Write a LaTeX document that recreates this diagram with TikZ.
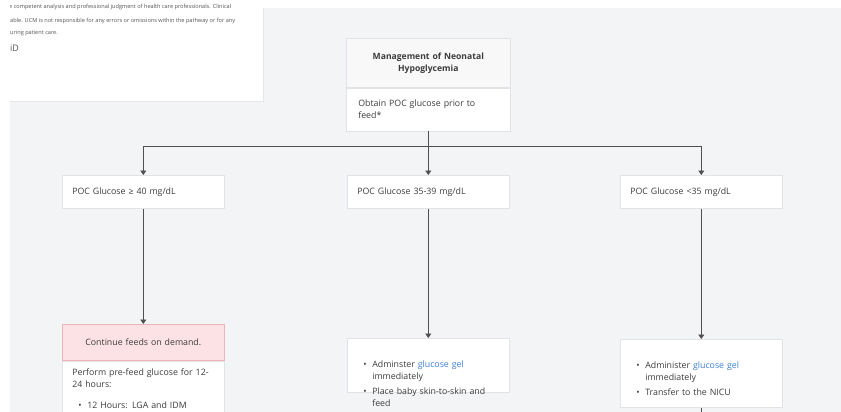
\documentclass[tikz,border=0pt]{standalone}
\usepackage{fontspec}
\setmainfont{Open Sans}
\usetikzlibrary{arrows.meta}
\definecolor{bg}{HTML}{F3F4F6}
\definecolor{bd}{HTML}{E1E3E6}
\definecolor{txt}{HTML}{3C3C3C}
\definecolor{hdr}{HTML}{F8F8F8}
\definecolor{pinkf}{HTML}{FDE2E5}
\definecolor{pinkb}{HTML}{F0B3B9}
\definecolor{linkc}{HTML}{3D7FD4}
\definecolor{ln}{HTML}{505050}
\definecolor{paneltxt}{HTML}{555555}
\definecolor{paneledge}{HTML}{E6E7EA}
\newcommand{\bul}[1]{\par\noindent\hspace*{6pt}\makebox[9pt][l]{\textbullet}\parbox[t]{127pt}{\raggedright #1}\par}
\tikzset{
  box/.style={draw=bd, fill=white, line width=0.6pt, text=txt, inner xsep=10pt,
    font=\fontsize{8.8}{12}\selectfont},
  glu/.style={box, anchor=north west, minimum width=162pt, minimum height=33pt, align=left, text width=142pt},
  list/.style={box, anchor=north west, text width=142pt, align=left, inner ysep=12pt,
    execute at begin node={\setlength{\parskip}{5pt}}},
  conn/.style={draw=ln, line width=0.8pt},
  arr/.style={conn, -{Triangle[width=6pt,length=4.5pt]}},
  ptext/.style={anchor=base west, inner sep=0pt, text=paneltxt, font=\fontsize{5.6}{6}\selectfont}
}
\begin{document}
\begin{tikzpicture}[x=1pt,y=-1pt]
\useasboundingbox (0,0) rectangle (841,412);
\clip (0,0) rectangle (841,412);
% backgrounds
\fill[white] (0,0) rectangle (841,412);
\fill[bg] (10,8) rectangle (841,412);
\fill[white] (10,8) rectangle (263,101);
\draw[color=paneledge, line width=0.6pt] (263,8) -- (263,101) -- (10,101);
\begin{scope}
  \clip (10,0) rectangle (263,101);
  \node[ptext] (pt1) at (9,9) {e competent analysis and professional judgment of health care professionals. Clinical};
  \node[ptext] (pt2) at (10,23) {able. UCM is not responsible for any errors or omissions within the pathway or for any};
  \node[ptext] (pt3) at (10,35) {uring patient care.};
  \node[ptext, font=\fontsize{9}{10}\selectfont] (pt4) at (10,52) {iD};
\end{scope}
% title
\node[box, fill=hdr, anchor=north west, minimum width=164pt, minimum height=49pt,
  text width=144pt, align=center, font=\fontsize{8.6}{12}\selectfont\bfseries] (hdr) at (346,38)
  {Management of Neonatal\\Hypoglycemia};
\node[box, anchor=north west, minimum width=164pt, minimum height=43pt,
  text width=140pt, inner xsep=12pt, align=left] (start) at (hdr.south west)
  {Obtain POC glucose prior to\\feed*};
% glucose boxes
\node[glu] (g1) at (62,175) {POC Glucose ≥ 40 mg/dL};
\node[glu] (g2) at (347,175) {POC Glucose 35-39 mg/dL};
\node[glu] (g3) at (620,175) {POC Glucose <35 mg/dL};
% lower boxes
\node[box, fill=pinkf, draw=pinkb, anchor=north west, minimum width=162pt, minimum height=36pt,
  text width=142pt, align=center] (c1h) at (62,324) {Continue feeds on demand.};
\node[box, anchor=north west, text width=142pt, align=left, inner ysep=8pt, text depth=30pt] (c1b) at (c1h.south west)
  {Perform pre-feed glucose for 12-\\24 hours:\par\vspace{9pt}\bul{12 Hours: LGA and IDM}};
\node[list, text depth=30pt] (c2) at (347,338)
  {\bul{\rule{0pt}{10pt}Adminster \textcolor{linkc}{glucose gel}\\immediately}\bul{Place baby skin-to-skin and\\feed}};
\node[list] (c3) at (620,339)
  {\bul{\rule{0pt}{10pt}Administer \textcolor{linkc}{glucose gel}\\immediately}\bul{Transfer to the NICU}};
% connectors
\path (start.south) ++(0,15) coordinate (split);
\draw[conn] (start.south) -- (split);
\draw[arr] (split) -| (g1.north);
\draw[arr] (split) -- (g2.north);
\draw[arr] (split) -| (g3.north);
\draw[arr] (g1.south) -- (c1h.north);
\draw[arr] (g2.south) -- (c2.north);
\draw[arr] (g3.south) -- (c3.north);
\path (c3.south) ++(0,15) coordinate (c3out);
\draw[conn] (c3.south) -- (c3out);
\end{tikzpicture}
\end{document}
